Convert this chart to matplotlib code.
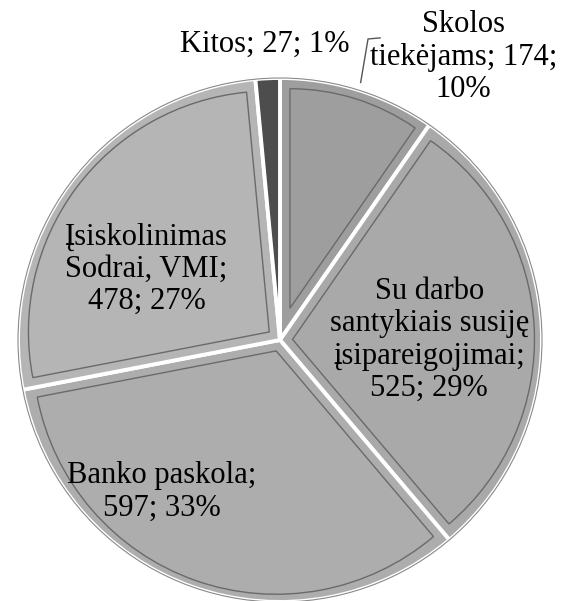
import numpy as np
import matplotlib
matplotlib.use("Agg")
import matplotlib.pyplot as plt
from matplotlib.patches import Wedge

plt.rcParams['font.family'] = 'serif'
plt.rcParams['font.serif'] = ['Liberation Serif', 'DejaVu Serif']

# --- data ---
categories = ["Skolos\ntiekėjams; 174;\n10%",
              "Su darbo\nsantykiais susiję\nįsipareigojimai;\n525; 29%",
              "Banko paskola;\n597; 33%",
              "Įsiskolinimas\nSodrai, VMI;\n478; 27%",
              "Kitos; 27; 1%"]
values = [174, 525, 597, 478, 27]

# --- style ---
fills = ["#9e9e9e", "#a9a9a9", "#adadad", "#b5b5b5", "#4d4d4d"]
# label centres in pie-radius units (pie centre = 0,0)
label_pos = [(0.70, 1.08), (0.57, 0.00), (-0.45, -0.58), (-0.51, 0.27), (-0.06, 1.13)]
inset = 0.038

fig = plt.figure(figsize=(5.81, 6.01), dpi=100)
ax = fig.add_axes([0, 0, 1, 1])

wedges, _ = ax.pie(values, colors=fills, startangle=90, counterclock=False,
                   radius=1.0,
                   wedgeprops=dict(edgecolor='white', linewidth=2.8))

# inner bevel outline for each slice
for w in wedges:
    t1, t2 = w.theta1, w.theta2
    half = np.radians(t2 - t1) / 2
    if half < np.radians(10):
        continue
    mid = np.radians((t1 + t2) / 2)
    s = inset / np.sin(half)
    cx, cy = s * np.cos(mid), s * np.sin(mid)
    r = 1.0 - inset - s * (1 + np.cos(half)) / 2
    ax.add_patch(Wedge((cx, cy), r, t1, t2, facecolor='none',
                       edgecolor='#6a6a6a', linewidth=1.0))

# soft outer rim
ax.add_patch(plt.Circle((0, 0), 1.0, facecolor='none', edgecolor='#8a8a8a',
                        linewidth=0.8))

for lab, (x, y) in zip(categories, label_pos):
    ax.text(x, y, lab, ha='center', va='center', fontsize=22,
            fontfamily='Liberation Serif', linespacing=1.15)

# leader line for "Skolos tiekėjams"
w0 = wedges[0]
m = np.radians((w0.theta1 + w0.theta2) / 2)
ex, ey = 1.03 * np.cos(m), 1.03 * np.sin(m)
ax.plot([ex, 0.336, 0.382], [ey, 1.149, 1.153], color='#555555', lw=1.0)

ax.set_aspect('auto')
ax.set_xlim(-280 / 262, 301 / 262)
ax.set_ylim(-261 / 262, 340 / 262)
ax.axis('off')

fig.savefig("out.png", dpi=100)
